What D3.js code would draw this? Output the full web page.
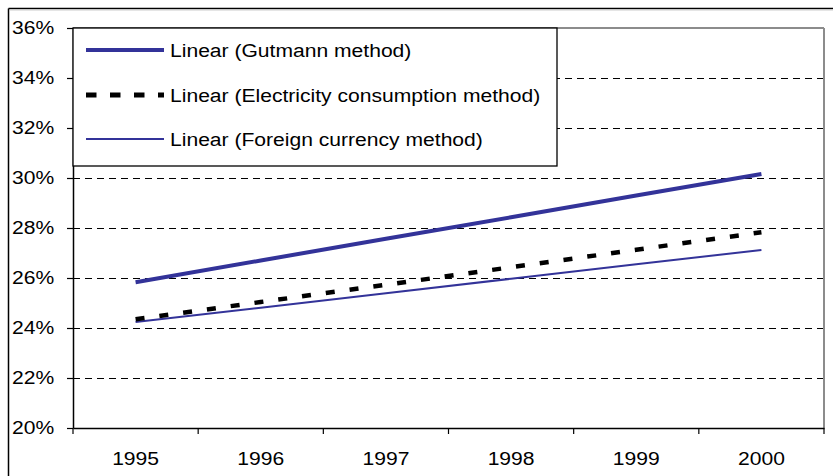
<!DOCTYPE html>
<html>
<head>
<meta charset="utf-8">
<script src="https://cdn.jsdelivr.net/npm/d3@7"></script>
<style>
  html, body { margin: 0; padding: 0; background: #fff; }
  svg { display: block; }
  text { font-family: "Liberation Sans", Arial, sans-serif; fill: #000; }
</style>
</head>
<body>
<svg id="chart" width="833" height="476"></svg>
<script>
// ---- data ----
const years = ["1995", "1996", "1997", "1998", "1999", "2000"];
const gutmann = [25.83, 26.70, 27.57, 28.43, 29.30, 30.16];
const electricity = [24.35, 25.04, 25.73, 26.43, 27.13, 27.83];
const foreign = [24.24, 24.81, 25.39, 25.97, 26.55, 27.12];
const yTicks = [20, 22, 24, 26, 28, 30, 32, 34, 36];
const seriesNames = ["Linear (Gutmann method)", "Linear (Electricity consumption method)", "Linear (Foreign currency method)"];

const W = 833, H = 476;
const plot = { left: 73, right: 824, top: 28, bottom: 428 };
const sx = 1.11, fs = 19;
const blue = "#333399";

const svg = d3.select("#chart");

// outer chart frame (cut off at right/bottom)
svg.append("line").attr("x1", 8.5).attr("y1", 8.5).attr("x2", W + 5).attr("y2", 8.5)
  .attr("stroke", "#000").attr("stroke-width", 1.5);
svg.append("line").attr("x1", 8.5).attr("y1", 8.5).attr("x2", 8.5).attr("y2", H + 5)
  .attr("stroke", "#000").attr("stroke-width", 1.5);
svg.append("line").attr("x1", 10).attr("y1", 10).attr("x2", W + 5).attr("y2", 10)
  .attr("stroke", "#ccc").attr("stroke-width", 1);

const x = d3.scaleBand().domain(years).range([plot.left, plot.right]).padding(0);
const y = d3.scaleLinear().domain([20, 36]).range([plot.bottom, plot.top]);

// gridlines
const grid = svg.append("g").attr("transform", `translate(${plot.left},0)`)
  .call(d3.axisLeft(y).tickValues(yTicks.filter(d => d > 20 && d < 36))
    .tickSize(-(plot.right - plot.left)).tickFormat(""));
grid.select(".domain").remove();
grid.selectAll(".tick line").attr("stroke", "#000").attr("stroke-width", 1)
  .attr("stroke-dasharray", "7,5");

// plot area top and right border (gray)
svg.append("line").attr("x1", plot.left).attr("y1", plot.top).attr("x2", plot.right).attr("y2", plot.top)
  .attr("stroke", "#8c8c8c").attr("stroke-width", 2);
svg.append("line").attr("x1", plot.right).attr("y1", plot.top).attr("x2", plot.right).attr("y2", plot.bottom)
  .attr("stroke", "#8c8c8c").attr("stroke-width", 2);

// y axis
const yAxis = svg.append("g").attr("transform", `translate(${plot.left},0)`)
  .call(d3.axisLeft(y).tickValues(yTicks).tickSize(6).tickSizeOuter(0).tickFormat(d => d + "%"));
yAxis.select(".domain").attr("stroke", "#000").attr("stroke-width", 1.5);
yAxis.selectAll(".tick line").attr("stroke", "#000").attr("stroke-width", 1.2);
yAxis.selectAll(".tick text")
  .attr("x", null).attr("dy", null)
  .attr("transform", `translate(-18.7,5) scale(${sx},1)`)
  .attr("text-anchor", "end")
  .style("font-size", fs + "px").style("font-family", '"Liberation Sans", Arial, sans-serif').attr("fill", "#000");

// x axis
const xAxis = svg.append("g").attr("transform", `translate(0,${plot.bottom})`)
  .call(d3.axisBottom(x).tickSize(0).tickSizeOuter(0));
xAxis.select(".domain").attr("stroke", "#000").attr("stroke-width", 1.5);
xAxis.selectAll(".tick text")
  .attr("y", null).attr("dy", null)
  .attr("transform", `translate(0,37) scale(${sx},1)`)
  .attr("text-anchor", "middle")
  .style("font-size", fs + "px").style("font-family", '"Liberation Sans", Arial, sans-serif').attr("fill", "#000");
// tick marks between categories
const bounds = years.map(d => x(d)).concat([x(years[years.length - 1]) + x.bandwidth()]);
svg.append("g").selectAll("line").data(bounds).join("line")
  .attr("x1", d => d).attr("x2", d => d)
  .attr("y1", plot.bottom).attr("y2", plot.bottom + 6)
  .attr("stroke", "#000").attr("stroke-width", 1.2);

// series lines
const cx = d => x(d) + x.bandwidth() / 2;
const lineGen = d3.line().x((d, i) => cx(years[i])).y(d => y(d));

svg.append("path").datum(foreign).attr("d", lineGen)
  .attr("fill", "none").attr("stroke", blue).attr("stroke-width", 2);
svg.append("path").datum(electricity).attr("d", lineGen)
  .attr("fill", "none").attr("stroke", "#000").attr("stroke-width", 4.5)
  .attr("stroke-dasharray", "9,15");
svg.append("path").datum(gutmann).attr("d", lineGen)
  .attr("fill", "none").attr("stroke", blue).attr("stroke-width", 4);

// legend
const lg = svg.append("g");
lg.append("rect").attr("x", plot.left).attr("y", plot.top).attr("width", 557 - plot.left).attr("height", 166 - plot.top)
  .attr("fill", "#fff").attr("stroke", "#000").attr("stroke-width", 1.3);
const rows = [
  { name: seriesNames[0], y: 50, color: blue, w: 4, dash: null },
  { name: seriesNames[1], y: 95, color: "#000", w: 5, dash: "10.5,13.5" },
  { name: seriesNames[2], y: 139, color: blue, w: 2, dash: null }
];
rows.forEach(r => {
  lg.append("line").attr("x1", 86).attr("x2", 164).attr("y1", r.y).attr("y2", r.y)
    .attr("stroke", r.color).attr("stroke-width", r.w)
    .attr("stroke-dasharray", r.dash);
  lg.append("text").text(r.name)
    .attr("transform", `translate(170,${r.y + 6.5}) scale(${sx},1)`)
    .style("font-size", fs + "px");
});
</script>
</body>
</html>
